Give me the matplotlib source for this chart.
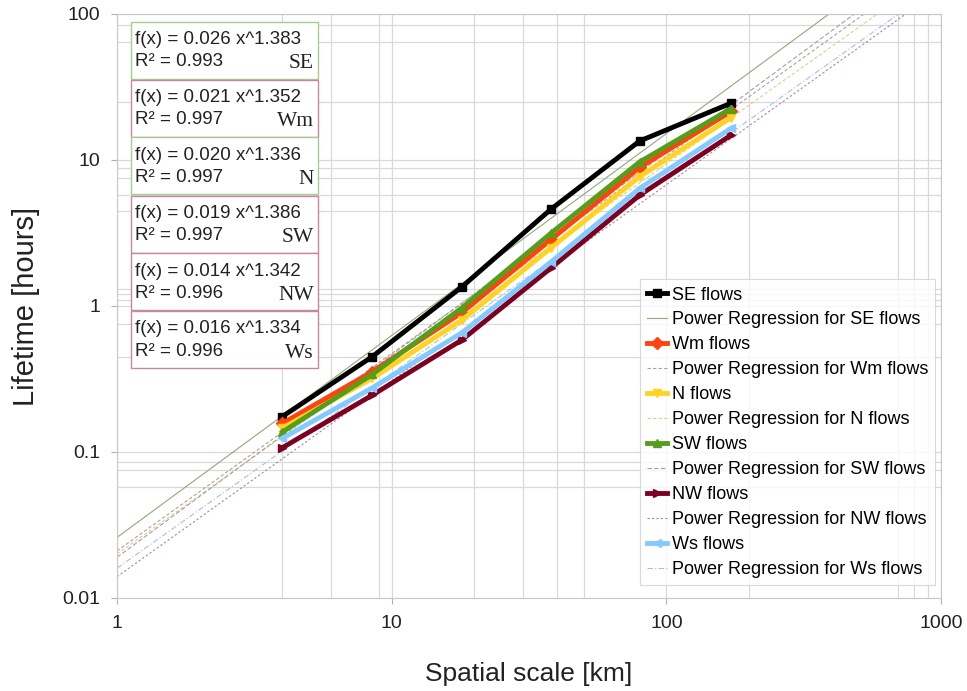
#!/usr/bin/env python3

import numpy as np
import matplotlib
matplotlib.use("Agg")
import matplotlib.pyplot as plt
from matplotlib.patches import Rectangle
from matplotlib.ticker import FixedLocator, NullFormatter

plt.rcParams['font.family'] = ['Liberation Sans', 'DejaVu Sans']

# spatial scale [km]
scales = [4, 8.5, 18, 38, 80, 172]

# lifetime [hours] per flow regime
se = [0.175, 0.45, 1.35, 4.6, 13.5, 24.5]
wm = [0.157, 0.355, 0.90, 2.85, 8.9, 21.5]
n = [0.146, 0.32, 0.80, 2.5, 7.7, 19.5]
sw = [0.137, 0.34, 0.97, 3.15, 9.7, 22.5]
nw = [0.107, 0.245, 0.585, 1.82, 5.75, 14.8]
ws = [0.124, 0.275, 0.655, 2.0, 6.4, 16.5]

names = ['SE', 'Wm', 'N', 'SW', 'NW', 'Ws']
series = [se, wm, n, sw, nw, ws]
colors = ['#000000', '#ff420e', '#ffd320', '#579d1c', '#7e0021', '#83caff']
markers = ['s', 'D', 'v', '^', '>', '<']

# power regression coefficients f(x) = a x^b and R^2
coef_a = [0.026, 0.021, 0.020, 0.019, 0.014, 0.016]
coef_b = [1.383, 1.352, 1.336, 1.386, 1.342, 1.334]
r2 = [0.993, 0.997, 0.997, 0.997, 0.996, 0.996]
trend_colors = ['#8faa78', '#b89a9a', '#e0cc90', '#a0a0a0', '#a88890', '#9cc4e8']
trend_styles = ['-', (0, (3, 2)), (0, (3, 2)), (0, (4, 2)), (0, (2, 2)), (0, (5, 2, 1, 2))]

fig = plt.figure(figsize=(9.67, 6.91), dpi=100)
W, H = 967, 691
ax = fig.add_axes([117 / W, 1 - 598 / H, (941 - 117) / W, (598 - 14) / H])
ax.set_xscale('log')
ax.set_yscale('log')
ax.set_xlim(1, 1000)
ax.set_ylim(0.01, 100)

# grid (the original has a rather irregular set of light lines)
for v in [1, 10, 100, 1000, 4, 6, 9, 20, 30, 40, 50, 200, 700, 800, 900]:
    ax.axvline(v, color='#d9d9d9', lw=0.9, zorder=0)
for v in [0.01, 0.1, 1, 10, 100, 84, 64, 25, 8.8, 7.5, 5.8, 4.5, 1.3, 1.2, 1.1, 0.75,
          0.45, 0.085, 0.075, 0.058]:
    ax.axhline(v, color='#d9d9d9', lw=0.9, zorder=0)

xx = np.logspace(0, 3, 200)
handles = []
labels = []
for i in range(6):
    h1, = ax.plot(scales, series[i], color=colors[i], marker=markers[i], lw=3.5,
                  ms=6, zorder=3 + i)
    h2, = ax.plot(xx, coef_a[i] * xx ** coef_b[i], color=trend_colors[i], lw=0.8,
                  ls=trend_styles[i], zorder=2)
    handles += [h1, h2]
    labels += [names[i] + ' flows', 'Power Regression for ' + names[i] + ' flows']

ax.xaxis.set_major_locator(FixedLocator([1, 10, 100, 1000]))
ax.yaxis.set_major_locator(FixedLocator([0.01, 0.1, 1, 10, 100]))
ax.xaxis.set_minor_formatter(NullFormatter())
ax.yaxis.set_minor_formatter(NullFormatter())
ax.set_xticklabels(['1', '10', '100', '1000'])
ax.set_yticklabels(['0.01', '0.1', '1', '10', '100'])
ax.tick_params(which='minor', length=0)
ax.tick_params(which='major', length=4, color='#b0b0b0', labelsize=14, pad=8,
               labelcolor='#222222')
for s in ax.spines.values():
    s.set_color('#c8c8c8')

ax.set_xlabel('Spatial scale [km]', fontsize=19, labelpad=22, color='#222222')
ax.set_ylabel('Lifetime [hours]', fontsize=21, labelpad=16, color='#222222')

leg = ax.legend(handles, labels, loc='lower right', bbox_to_anchor=(0.993, 0.022),
                fontsize=13, frameon=True, fancybox=False, handlelength=1.1,
                handletextpad=0.25, labelspacing=0.44, borderpad=0.4,
                borderaxespad=0)
leg.get_frame().set_edgecolor('#d0d0d0')
leg.get_frame().set_linewidth(0.8)
leg.set_zorder(20)

# equation boxes
box_tops = [22, 80, 137, 196, 253, 311]
box_edges = ['#a8cc90', '#c8889c', '#a8cc90', '#c8889c', '#c8889c', '#c8889c']
for i in range(6):
    top = box_tops[i]
    x0, x1, bh = 131, 318, 57
    fig.add_artist(Rectangle((x0 / W, 1 - (top + bh) / H), (x1 - x0) / W, bh / H,
                             transform=fig.transFigure, facecolor='white',
                             edgecolor=box_edges[i], lw=1.0, zorder=10))
    fig.text(135 / W, 1 - (top + 18) / H, 'f(x) = %.3f x^%.3f' % (coef_a[i], coef_b[i]),
             fontsize=13.5, va='center', ha='left', color='#222222', zorder=11)
    fig.text(135 / W, 1 - (top + 40) / H, 'R² = %.3f' % r2[i],
             fontsize=13.5, va='center', ha='left', color='#222222', zorder=11)
    fig.text(314 / W, 1 - (top + 42) / H, names[i], family='Liberation Serif',
             fontsize=15.5, va='center', ha='right', color='#222222', zorder=11)

fig.savefig('out.png', dpi=100)
plt.close()
